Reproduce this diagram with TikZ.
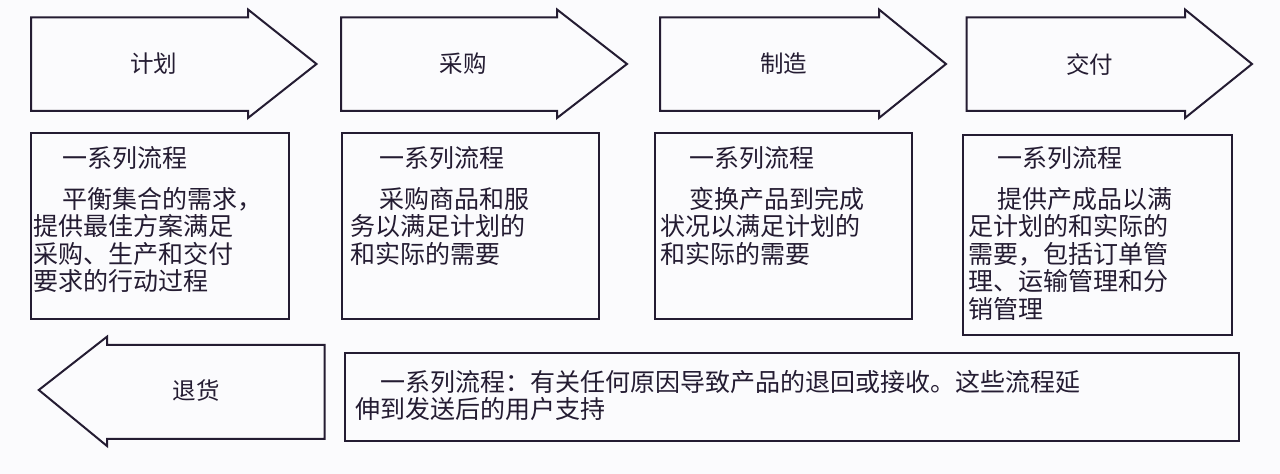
\documentclass[tikz,border=0pt]{standalone}
\usepackage{fontspec}
\newfontfamily\cjk{Noto Sans CJK SC}
\usetikzlibrary{positioning}
\definecolor{ink}{RGB}{36,28,50}
\definecolor{paper}{RGB}{251,251,253}
\tikzset{
  blk/.style={draw=ink, line width=1pt, line join=miter},
  alab/.style={font=\cjk\fontsize{11.75pt}{13pt}\selectfont, text=ink, inner sep=0pt},
  pbox/.style={blk, anchor=north west, inner sep=0pt},
  desc/.style={font=\cjk\fontsize{12.5pt}{13.75pt}\selectfont, text=ink, inner sep=0pt, align=left}
}
% forward arrow: name, left x, notch x, tip x, label
\newcommand{\fwdarrow}[5]{
  \draw[blk] (#2,17.5) -- (#3,17.5) -- (#3,9.5) -- (#4,64) -- (#3,118) -- (#3,111) -- (#2,111) -- cycle;
  \node[alab] (#1) at ({(#2+#3)/2+14},64) {#5};
}
\newcommand{\ind}{\hspace*{14.5pt}}

\begin{document}
\begin{tikzpicture}[x=0.5pt, y=-0.5pt]
	\fill[paper] (0,0) rectangle (1280,474);
	\useasboundingbox (0,0) rectangle (1280,474);
	% the four steps
	\fwdarrow{plan}{31}{248}{316.5}{计划}
	\fwdarrow{source}{341}{557}{627}{采购}
	\fwdarrow{make}{660}{879}{946}{制造}
	\fwdarrow{deliver}{966.5}{1185}{1252}{交付}
	% what each step covers
	\node[pbox, minimum width=129pt, minimum height=93.15pt] (planbox) at (30,131.7) {};
	\node[pbox, minimum width=128.65pt, minimum height=93.15pt] (sourcebox) at (340.7,131.7) {};
	\node[pbox, minimum width=128.5pt, minimum height=93.15pt] (makebox) at (654,131.7) {};
	\node[pbox, minimum width=134.5pt, minimum height=100pt] (deliverbox) at (961.6,134) {};
	\node[desc, below right=7.2pt and 1.5pt of planbox.north west] (plantxt)
		{\ind 一系列流程\\[6.75pt] \ind 平衡集合的需求，\\提供最佳方案满足\\采购、生产和交付\\要求的行动过程};
	\node[desc, below right=7.2pt and 4.5pt of sourcebox.north west] (sourcetxt)
		{\ind 一系列流程\\[6.75pt] \ind 采购商品和服\\务以满足计划的\\和实际的需要};
	\node[desc, below right=7.2pt and 3pt of makebox.north west] (maketxt)
		{\ind 一系列流程\\[6.75pt] \ind 变换产品到完成\\状况以满足计划的\\和实际的需要};
	\node[desc, below right=6pt and 3pt of deliverbox.north west] (delivertxt)
		{\ind 一系列流程\\[6.75pt] \ind 提供产成品以满\\足计划的和实际的\\需要，包括订单管\\理、运输管理和分\\销管理};
	% return
	\draw[blk] (38.8,390) -- (107,336.7) -- (107,345) -- (324.5,345) -- (324.5,439) -- (107,439) -- (107,446) -- cycle;
	\node[alab] (ret) at (196,391) {退货};
	\node[pbox, minimum width=447pt, minimum height=44.15pt] (retbox) at (344,351.7) {};
	\node[desc, below right=9pt and 5.5pt of retbox.north west] (rettxt)
		{\hspace*{12.5pt}一系列流程：有关任何原因导致产品的退回或接收。这些流程延\\伸到发送后的用户支持};
\end{tikzpicture}
\end{document}
